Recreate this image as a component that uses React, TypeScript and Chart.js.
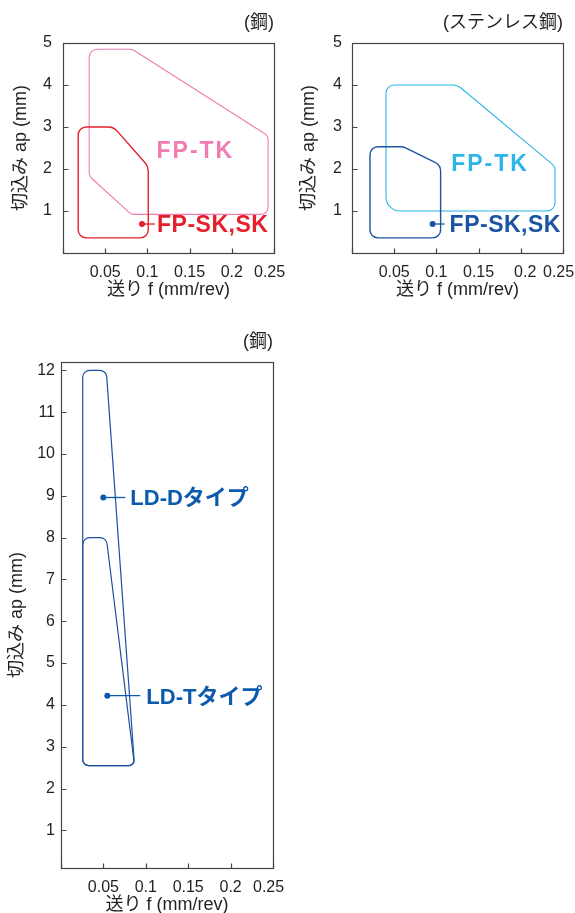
import { useEffect, useRef } from "react";
import { Chart, registerables } from "chart.js";

Chart.register(...registerables);

const FONT = '"Liberation Sans", Arial, "Noto Sans CJK JP", sans-serif';
const AXIS = "#444444";
const TEXT = "#231f20";

// ---- shared ticks / text ----
const feedTicks = [0, 0.05, 0.1, 0.15, 0.2, 0.25];
const feedTickLabels = ["", "0.05", "0.1", "0.15", "0.2", "0.25"];
const depthTicksFP = [1, 2, 3, 4, 5];
const depthTicksLD = [1, 2, 3, 4, 5, 6, 7, 8, 9, 10, 11, 12];
const xAxisTitle = "送り f (mm/rev)";
const yAxisTitle = "切込み ap (mm)";
const steelTitle = "(鋼)";
const stainlessTitle = "(ステンレス鋼)";

// ---- chart 1: steel ----
const steelTkFeed = [0.031, 0.082, 0.243, 0.243, 0.081, 0.031];
const steelTkDepth = [4.85, 4.85, 2.79, 0.92, 0.92, 1.83];
const steelSkFeed = [0.018, 0.06, 0.101, 0.101, 0.018];
const steelSkDepth = [3.0, 3.0, 2.06, 0.36, 0.36];
const steelTkLabel = "FP-TK";
const steelTkLabelFeed = 0.1568;
const steelTkLabelDepth = 2.47;
const steelSkLabel = "FP-SK,SK";
const steelSkMarkFeed = 0.0936;
const steelSkMarkDepth = 0.69;

// ---- chart 2: stainless ----
const stainTkFeed = [0.0403, 0.1248, 0.2405, 0.2405, 0.0403];
const stainTkDepth = [4.0, 4.0, 2.06, 1.0, 1.0];
const stainSkFeed = [0.0213, 0.061, 0.105, 0.105, 0.0213];
const stainSkDepth = [2.53, 2.53, 2.09, 0.36, 0.36];
const stainTkLabel = "FP-TK";
const stainTkLabelFeed = 0.1635;
const stainTkLabelDepth = 2.15;
const stainSkLabel = "FP-SK,SK";
const stainSkMarkFeed = 0.0955;
const stainSkMarkDepth = 0.69;

// ---- chart 3: LD (steel) ----
const ldDFeed = [0.0256, 0.0534, 0.0867, 0.0256];
const ldDDepth = [12.0, 12.0, 2.55, 2.55];
const ldTFeed = [0.0256, 0.0534, 0.0867, 0.0256];
const ldTDepth = [8.0, 8.0, 2.55, 2.55];
const ldDLabel = "LD-Dタイプ";
const ldDMarkFeed = 0.0499;
const ldDMarkDepth = 8.96;
const ldTLabel = "LD-Tタイプ";
const ldTMarkFeed = 0.0546;
const ldTMarkDepth = 4.22;

const zip = (xs: number[], ys: number[]) => xs.map((x, i) => ({ x, y: ys[i] }));

const shapesPlugin = {
  id: "shapes",
  beforeDatasetsDraw(chart: any) {
    const { ctx, chartArea: a, scales } = chart;
    ctx.save();
    ctx.strokeStyle = AXIS;
    ctx.lineWidth = 1.2;
    const L = Math.round(a.left) + 0.5;
    const R = Math.round(a.right) + 0.5;
    const T = Math.round(a.top) + 0.5;
    const B = Math.round(a.bottom) + 0.5;
    ctx.strokeRect(L, T, R - L, B - T);
    ctx.beginPath();
    scales.x.ticks.forEach((t: any) => {
      const px = Math.round(scales.x.getPixelForValue(t.value)) + 0.5;
      ctx.moveTo(px, B);
      ctx.lineTo(px, B - 5);
    });
    scales.y.ticks.forEach((t: any) => {
      const py = Math.round(scales.y.getPixelForValue(t.value)) + 0.5;
      ctx.moveTo(L, py);
      ctx.lineTo(L + 5, py);
    });
    ctx.stroke();
    ctx.restore();
  },
  afterDatasetsDraw(chart: any) {
    const { ctx } = chart;
    chart.data.datasets.forEach((ds: any, i: number) => {
      const meta = chart.getDatasetMeta(i);
      if (ds.polygon) {
        const pts = meta.data.map((p: any) => ({ x: p.x, y: p.y }));
        const n = pts.length;
        const radii = ds.polygon.radius;
        ctx.save();
        ctx.beginPath();
        const s = { x: (pts[n - 1].x + pts[0].x) / 2, y: (pts[n - 1].y + pts[0].y) / 2 };
        ctx.moveTo(s.x, s.y);
        for (let k = 0; k < n; k++) {
          const p = pts[k];
          const q = pts[(k + 1) % n];
          const r = Array.isArray(radii) ? radii[k] : radii;
          ctx.arcTo(p.x, p.y, q.x, q.y, r);
        }
        ctx.closePath();
        ctx.strokeStyle = ds.polygon.color;
        ctx.lineWidth = ds.polygon.width;
        ctx.lineJoin = "round";
        ctx.stroke();
        ctx.restore();
      }
      if (ds.marker) {
        const p = meta.data[0];
        const m = ds.marker;
        ctx.save();
        ctx.strokeStyle = m.lineColor;
        ctx.lineWidth = 1.3;
        ctx.beginPath();
        ctx.moveTo(p.x, p.y);
        ctx.lineTo(p.x + m.leader, p.y);
        ctx.stroke();
        ctx.fillStyle = m.color;
        ctx.font = `bold ${m.size}px ${FONT}`;
        (ctx as any).letterSpacing = `${m.spacing}px`;
        ctx.textAlign = "left";
        ctx.textBaseline = "alphabetic";
        ctx.fillText(m.text, p.x + m.gap, p.y + m.size * 0.36);
        ctx.restore();
      }
      if (ds.freeLabel) {
        const p = meta.data[0];
        const m = ds.freeLabel;
        ctx.save();
        ctx.fillStyle = m.color;
        ctx.font = `bold ${m.size}px ${FONT}`;
        (ctx as any).letterSpacing = `${m.spacing}px`;
        ctx.textAlign = "center";
        ctx.textBaseline = "alphabetic";
        ctx.fillText(m.text, p.x, p.y + m.size * 0.36);
        ctx.restore();
      }
    });
  },
};

type Spec = {
  title: string;
  yMin: number;
  yMax: number;
  yTicks: number[];
  datasets: any[];
  padRight: number;
  yWidth: number;
  xHeight: number;
  titleTop: number;
  titleBottom: number;
  yTickPad: number;
  xTickPad: number;
  yTitleTop: number;
  xTitleBottom: number;
  xLabelNudge: number[]; // in space widths: + shifts right, - shifts left
};

const tickFont = { family: FONT, size: 16, weight: "normal" as const };
const titleFont = { family: FONT, size: 18, weight: "normal" as const };

function polygonDs(xs: number[], ys: number[], color: string, width: number, radius: number | number[]) {
  return {
    data: zip(xs, ys),
    showLine: false,
    pointRadius: 0,
    pointHoverRadius: 0,
    borderColor: color,
    backgroundColor: color,
    polygon: { color, width, radius },
  };
}

function markerDs(x: number, y: number, text: string, color: string, leader: number, gap: number, size: number, spacing: number) {
  return {
    data: [{ x, y }],
    showLine: false,
    pointRadius: 3,
    pointBorderWidth: 0,
    pointBackgroundColor: color,
    borderColor: color,
    marker: { text, color, lineColor: color, leader, gap, size, spacing },
  };
}

function labelDs(x: number, y: number, text: string, color: string, size: number, spacing: number) {
  return {
    data: [{ x, y }],
    showLine: false,
    pointRadius: 0,
    borderColor: color,
    freeLabel: { text, color, size, spacing },
  };
}

function nudged(label: string, n: number) {
  if (!label || !n) return label;
  const pad = " ".repeat(Math.abs(n) * 2);
  return n > 0 ? pad + label : label + pad;
}

function buildConfig(spec: Spec): any {
  return {
    type: "scatter",
    data: { datasets: spec.datasets },
    options: {
      responsive: false,
      animation: false,
      events: [],
      layout: { padding: { left: 0, right: spec.padRight, top: 0, bottom: 0 } },
      plugins: {
        legend: { display: false },
        tooltip: { enabled: false },
        title: {
          display: true,
          text: spec.title,
          align: "end",
          fullSize: false,
          color: TEXT,
          font: titleFont,
          padding: { top: spec.titleTop, bottom: spec.titleBottom },
        },
      },
      scales: {
        x: {
          type: "linear",
          min: 0,
          max: 0.25,
          afterBuildTicks: (s: any) => {
            s.ticks = feedTicks.map((v) => ({ value: v }));
          },
          afterFit: (s: any) => {
            s.height = spec.xHeight;
          },
          grid: { display: false },
          border: { display: false },
          ticks: {
            padding: spec.xTickPad,
            maxRotation: 0,
            autoSkip: false,
            color: TEXT,
            font: tickFont,
            callback: (_v: any, i: number) => nudged(feedTickLabels[i], spec.xLabelNudge[i]),
          },
          title: {
            display: true,
            text: xAxisTitle,
            color: TEXT,
            font: titleFont,
            padding: { top: 0, bottom: spec.xTitleBottom },
          },
        },
        y: {
          type: "linear",
          min: spec.yMin,
          max: spec.yMax,
          afterBuildTicks: (s: any) => {
            s.ticks = spec.yTicks.map((v) => ({ value: v }));
          },
          afterFit: (s: any) => {
            s.width = spec.yWidth;
          },
          grid: { display: false, drawTicks: false, tickLength: 0 },
          border: { display: false },
          ticks: {
            padding: spec.yTickPad,
            autoSkip: false,
            color: TEXT,
            font: tickFont,
            callback: (v: any) => String(v),
          },
          title: {
            display: true,
            text: yAxisTitle,
            color: TEXT,
            font: titleFont,
            padding: { top: spec.yTitleTop, bottom: 0 },
          },
        },
      },
    },
    plugins: [shapesPlugin],
  };
}

const PINK = "#f07cb2";
const RED = "#e5202b";
const SKY = "#2db5e8";
const NAVY = "#1b54a3";
const LDLINE = "#1d4fa2";
const LDTEXT = "#0c5aab";

const specSteel: Spec = {
  title: steelTitle,
  yMin: 0,
  yMax: 5,
  yTicks: depthTicksFP,
  datasets: [
    polygonDs(steelTkFeed, steelTkDepth, PINK, 1.1, [8, 8, 7, 7, 8, 8]),
    polygonDs(steelSkFeed, steelSkDepth, RED, 1.4, [8, 12, 12, 8, 8]),
    labelDs(steelTkLabelFeed, steelTkLabelDepth, steelTkLabel, PINK, 23, 2),
    markerDs(steelSkMarkFeed, steelSkMarkDepth, steelSkLabel, RED, 13, 15, 23, 0.5),
  ],
  padRight: 26,
  yWidth: 63,
  xHeight: 57,
  titleTop: 12,
  titleBottom: 9.4,
  yTickPad: 11,
  xTickPad: 2,
  yTitleTop: 10,
  xTitleBottom: 9,
  xLabelNudge: [0, 0, 0, 0, 0, -1],
};

const specStainless: Spec = {
  title: stainlessTitle,
  yMin: 0,
  yMax: 5,
  yTicks: depthTicksFP,
  datasets: [
    polygonDs(stainTkFeed, stainTkDepth, SKY, 1.1, [8, 12, 7, 8, 14]),
    polygonDs(stainSkFeed, stainSkDepth, NAVY, 1.4, [8, 10, 10, 8, 8]),
    labelDs(stainTkLabelFeed, stainTkLabelDepth, stainTkLabel, SKY, 23, 2),
    markerDs(stainSkMarkFeed, stainSkMarkDepth, stainSkLabel, NAVY, 12, 17, 23, 0.5),
  ],
  padRight: 27,
  yWidth: 62,
  xHeight: 57,
  titleTop: 12,
  titleBottom: 9.4,
  yTickPad: 10,
  xTickPad: 2,
  yTitleTop: 8,
  xTitleBottom: 9,
  xLabelNudge: [0, 0, 0, 0, 1, -1],
};

const specLD: Spec = {
  title: steelTitle,
  yMin: 0.1,
  yMax: 12.2,
  yTicks: depthTicksLD,
  datasets: [
    polygonDs(ldDFeed, ldDDepth, LDLINE, 1.2, [7, 7, 5, 6]),
    polygonDs(ldTFeed, ldTDepth, LDLINE, 1.2, [7, 7, 5, 6]),
    markerDs(ldDMarkFeed, ldDMarkDepth, ldDLabel, LDTEXT, 22, 27, 22, 0),
    markerDs(ldTMarkFeed, ldTMarkDepth, ldTLabel, LDTEXT, 33, 39, 22, 0),
  ],
  padRight: 26,
  yWidth: 61,
  xHeight: 48,
  titleTop: 1,
  titleBottom: 9.4,
  yTickPad: 6,
  xTickPad: 2,
  yTitleTop: 6,
  xTitleBottom: 0,
  xLabelNudge: [0, 0, 0, 0, 0, -1],
};

function Plot({ spec, left, top, width, height }: { spec: Spec; left: number; top: number; width: number; height: number }) {
  const ref = useRef<HTMLCanvasElement>(null);
  useEffect(() => {
    const chart = new Chart(ref.current as HTMLCanvasElement, buildConfig(spec));
    return () => chart.destroy();
  }, [spec]);
  return (
    <div style={{ position: "absolute", left, top, width, height }}>
      <canvas ref={ref} width={width} height={height} style={{ width, height, display: "block" }} />
    </div>
  );
}

export default function App() {
  return (
    <div
      style={{
        position: "fixed",
        left: 0,
        top: 0,
        width: 575,
        height: 913,
        overflow: "hidden",
        background: "#ffffff",
      }}
    >
      <Plot spec={specSteel} left={0} top={0} width={300} height={310} />
      <Plot spec={specStainless} left={290} top={0} width={300} height={310} />
      <Plot spec={specLD} left={0} top={330} width={299} height={586} />
    </div>
  );
}
